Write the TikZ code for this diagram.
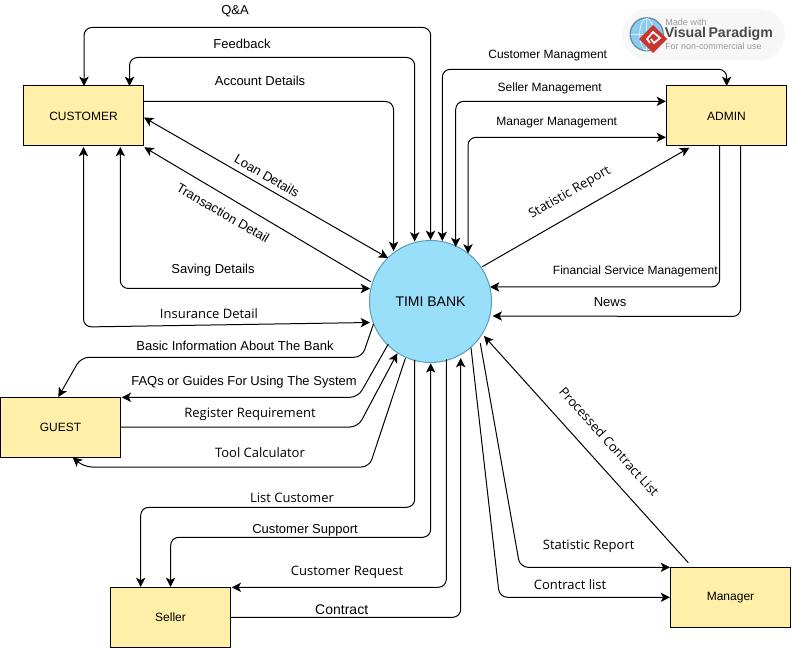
\documentclass[tikz,border=0pt]{standalone}
\usepackage{fontspec}
\setmainfont{Liberation Sans}
\newfontfamily\opens{Open Sans}
\usetikzlibrary{arrows.meta}
\definecolor{boxfill}{HTML}{FFEFA8}
\definecolor{bankfill}{HTML}{99DFF9}
\definecolor{bankline}{HTML}{5A9DB8}
\definecolor{pill}{HTML}{F7F7F7}
\definecolor{globe}{HTML}{8CCBEF}
\definecolor{globeline}{HTML}{5F8FA5}
\definecolor{logored}{HTML}{C8362E}
\definecolor{logogray}{HTML}{4A4A4A}
\definecolor{logolight}{HTML}{9A9A9A}
\tikzset{
  x=0.75pt,y=-0.75pt,
  >={Stealth[length=7pt,width=7pt,inset=1.8pt]},
  flow/.style={draw=black,line width=0.75pt,rounded corners=6pt},
  entity/.style={draw=black,fill=boxfill,line width=0.75pt,minimum width=90pt,minimum height=45pt,inner sep=0pt,font=\fontsize{9}{11}\selectfont},
  lab/.style={inner sep=0pt,yshift=-0.8pt,font=\fontsize{9.75}{11}\selectfont},
  labo/.style={inner sep=0pt,yshift=-0.8pt,font=\opens\fontsize{9.75}{11}\selectfont},
  labr/.style={inner sep=0pt,font=\fontsize{9.75}{11}\selectfont},
  labor/.style={inner sep=0pt,font=\opens\fontsize{9.75}{11}\selectfont},
}
\begin{document}
\begin{tikzpicture}
\useasboundingbox (0,0) rectangle (792,648);
\fill[white] (0,0) rectangle (792,648);
% logo
\fill[pill] (622,9) [rounded corners=19pt] rectangle (785,60);
\fill[globe] (646.7,34.3) circle[radius=16];
\draw[globeline,line width=1pt] (646.7,34.3) circle[radius=16.5];
\draw[white,line width=0.4pt] (630.5,34.3) -- (663,34.3) (646.7,18) -- (646.7,50.6) (646.7,34.3) ellipse[x radius=7,y radius=16];
\fill[logored] (653,25) -- (667,39) -- (653,53) -- (639,39) -- cycle;
\draw[white,line width=1.3pt] (650,43) -- (647,39) -- (653,32) -- (660,38) -- (654,43) -- (651,39);
\node[anchor=west,inner sep=0pt,text=logolight,font=\fontsize{6.8}{7}\selectfont] (logoa) at (665,22) {Made with};
\node[anchor=west,inner sep=0pt,text=logogray,font=\bfseries\fontsize{10.6}{12}\selectfont] (logob) at (664.5,34) {Visual\,Paradigm};
\node[anchor=west,inner sep=0pt,text=logolight,font=\fontsize{6.7}{7}\selectfont] (logoc) at (665,46.5) {For non-commercial use};
% nodes
\node[entity] (cust) at (83.5,116) {CUSTOMER};
\node[entity] (admin) at (726.5,116) {ADMIN};
\node[entity] (guest) at (60.5,427.5) {GUEST};
\node[entity] (seller) at (170.5,617) {Seller};
\node[entity] (manager) at (730.5,597.5) {Manager};
\node[circle,draw=bankline,fill=bankfill,line width=0.75pt,minimum size=91.5pt,inner sep=0pt,font=\fontsize{10.5}{12}\selectfont] (bank) at (430.5,301.5) {TIMI BANK};
% customer connectors
\draw[flow,<->] ([shift={(0,-61.5)}]bank.center) -- (430.7,27.5) -- (84,27.5) -- ([shift={(0.5,-30)}]cust.center);
\draw[flow,<->] ([shift={(-15.8,-60)}]bank.center) -- (414.7,57.5) -- (129.5,57.5) -- ([shift={(46,-30)}]cust.center);
\draw[flow,->] ([shift={(60,-14.5)}]cust.center) -- (393.5,101.5) -- ([shift={(-37,-50.5)}]bank.center);
\draw[flow,<->] ([shift={(60.5,1.5)}]cust.center) -- ([shift={(-42.5,-43.5)}]bank.center);
\draw[flow,<-] ([shift={(60.8,31.3)}]cust.center) -- ([shift={(-59.8,-19.8)}]bank.center);
\draw[flow,<->] ([shift={(36.8,31)}]cust.center) -- (120.3,288.5) -- ([shift={(-60.5,-13)}]bank.center);
\draw[flow,<->] ([shift={(0,31)}]cust.center) -- (83.5,327) -- ([shift={(-60.5,21)}]bank.center);
% admin connectors
\draw[flow,<->] ([shift={(11.8,-60.5)}]bank.center) -- (442.3,69.3) -- (726.7,69.3) -- ([shift={(0.2,-30)}]admin.center);
\draw[flow,<->] ([shift={(25.2,-54.5)}]bank.center) -- (455.7,101.3) -- ([shift={(-60.5,-14.7)}]admin.center);
\draw[flow,<->] ([shift={(37.5,-48)}]bank.center) -- (468,137.3) -- ([shift={(-60.5,21.3)}]admin.center);
\draw[flow,->] ([shift={(51.8,-34.8)}]bank.center) -- ([shift={(-37.2,31.7)}]admin.center);
\draw[flow,->] ([shift={(-6.8,30)}]admin.center) -- (719.7,287) -- ([shift={(59.5,-14.5)}]bank.center);
\draw[flow,->] ([shift={(14.2,30)}]admin.center) -- (740.7,316.5) -- ([shift={(62.2,14.5)}]bank.center);
% guest connectors
\draw[flow,->] ([shift={(-57,22.5)}]bank.center) -- (362,357.3) -- (81,357.3) -- ([shift={(-2.2,-30.5)}]guest.center);
\draw[flow,->] ([shift={(-42.2,42.5)}]bank.center) -- (358,397.3) -- ([shift={(61.2,-30.2)}]guest.center);
\draw[flow,->] ([shift={(60,-0.5)}]guest.center) -- (358,427) -- ([shift={(-33.2,51.8)}]bank.center);
\draw[flow,->] ([shift={(-25,56.5)}]bank.center) -- (369.3,467) -- (84,467) -- ([shift={(12.2,29.8)}]guest.center);
% seller connectors
\draw[flow,->] ([shift={(-15.8,58.5)}]bank.center) -- (414.7,507.3) -- (140.7,507.3) -- ([shift={(-29.8,-30)}]seller.center);
\draw[flow,<->] ([shift={(0.2,61.8)}]bank.center) -- (430.7,537.3) -- (170.7,537.3) -- ([shift={(0,-30)}]seller.center);
\draw[flow,->] ([shift={(15.8,57.8)}]bank.center) -- (446.3,587.3) -- ([shift={(61.2,-29.7)}]seller.center);
\draw[flow,->] ([shift={(60,0.3)}]seller.center) -- (460.7,617.3) -- ([shift={(30.2,56.5)}]bank.center);
% manager connectors
\draw[flow,->] ([shift={(49.8,41.8)}]bank.center) -- (520,567.3) -- ([shift={(-60.5,-30.2)}]manager.center);
\draw[flow,->] ([shift={(40.5,46.2)}]bank.center) -- (499.5,597.3) -- ([shift={(-60.5,-0.2)}]manager.center);
\draw[flow,->] ([shift={(-42.2,-34.8)}]manager.center) -- ([shift={(53.5,34.5)}]bank.center);
% labels
\node[lab] (l1) at (235,10) {Q\&A};
\node[lab] (l2) at (242,43) {Feedback};
\node[lab] (l3) at (260,80) {Account Details};
\node[labr,rotate=-30] (l4) at (267,176) {Loan Details};
\node[labr,rotate=-30] (l5) at (223,213) {Transaction Detail};
\node[lab] (l6) at (213,269) {Saving Details};
\node[labo] (l7) at (209,312.5) {Insurance Detail};
\node[lab,font=\fontsize{9}{11}\selectfont] (l8) at (547.7,54.5) {Customer Managment};
\node[lab,font=\fontsize{9}{11}\selectfont] (l9) at (549.7,87.5) {Seller Management};
\node[lab,font=\fontsize{9}{11}\selectfont] (l10) at (556.7,121.5) {Manager Management};
\node[labor,rotate=30] (l11) at (570,193) {Statistic Report};
\node[lab,font=\fontsize{9}{11}\selectfont] (l12) at (635.3,270.5) {Financial Service Management};
\node[lab] (l13) at (610,301) {News};
\node[lab] (l14) at (235,344.3) {Basic Information About The Bank};
\node[lab] (l15) at (244,381.3) {FAQs or Guides For Using The System};
\node[labo] (l16) at (250,413.7) {Register Requirement};
\node[labo] (l17) at (260,451.3) {Tool Calculator};
\node[labo] (l18) at (292,496.7) {List Customer};
\node[lab] (l19) at (305,529.3) {Customer Support};
\node[labo] (l20) at (347,571.7) {Customer Request};
\node[lab,font=\fontsize{10.5}{12}\selectfont] (l21) at (341.7,608.3) {Contract};
\node[labo] (l22) at (588.7,545.7) {Statistic Report};
\node[labo] (l23) at (570,583.3) {Contract list};
\node[labor,rotate=-48] (l24) at (609.3,441.7) {Processed Contract List};
\end{tikzpicture}
\end{document}
